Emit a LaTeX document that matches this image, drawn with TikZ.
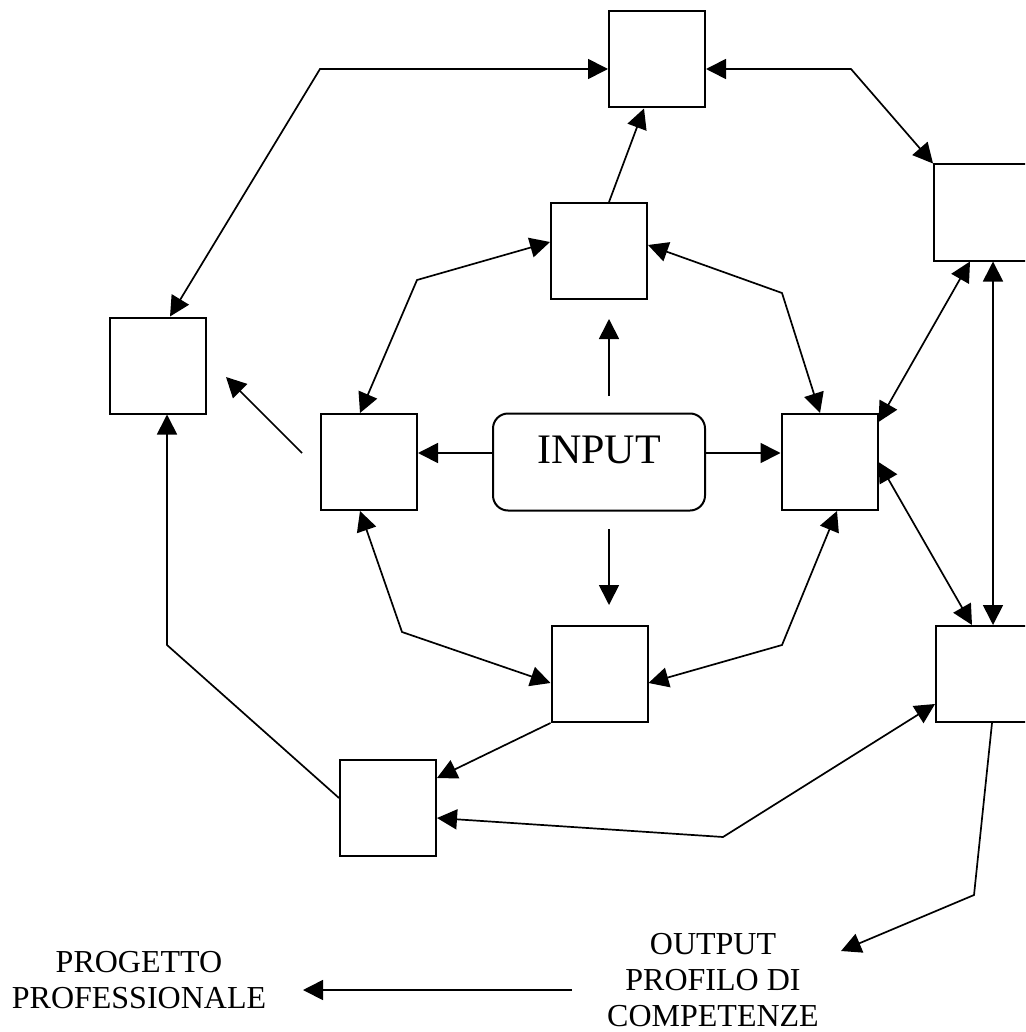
\documentclass[tikz,border=0pt]{standalone}
\usepackage{fontspec}
\setmainfont{Liberation Serif}
\usetikzlibrary{arrows.meta}

\begin{document}
\begin{tikzpicture}[x=0.5pt,y=-0.5pt,
  box/.style={draw, line width=1pt, minimum width=48pt, minimum height=48pt, inner sep=0pt},
  arr/.style={line width=0.85pt, -{Triangle[length=10pt,width=10pt]}},
  dbl/.style={line width=0.85pt, {Triangle[length=10pt,width=10pt]}-{Triangle[length=10pt,width=10pt]}},
  lbl/.style={align=center, font=\fontsize{16}{18}\selectfont}]
\clip (0,0) rectangle (1025,1032);
% boxes
\node[box] (top) at (657,59.5) {};
\node[box] (up) at (599,251) {};
\node[box] (left) at (369,462) {};
\node[box] (right) at (829.5,462) {};
\node[box] (down) at (599.5,674) {};
\node[box] (far) at (157.5,365.5) {};
\node[box] (low) at (388,808) {};
\node[box] (rtop) at (982,212.5) {};
\node[box] (rbot) at (984,674) {};
\node[draw, rounded corners=7.5pt, line width=1pt, minimum width=106pt, minimum height=48.5pt,
  text depth=12pt, font=\fontsize{21}{25}\selectfont] (inp) at (599,462) {INPUT};
\node[lbl] (out) at (713,980) {OUTPUT\\PROFILO DI\\COMPETENZE};
\node[lbl] (prog) at (139,980) {PROGETTO\\PROFESSIONALE};
% free ends
\coordinate (upA) at (609,396); \coordinate (upB) at (609,319);
\coordinate (dnA) at (609,529); \coordinate (dnB) at (609,605);
\coordinate (lfA) at (302,453); \coordinate (lfB) at (226,377);
\coordinate (outTip) at (841,951);
\coordinate (prA) at (572,990); \coordinate (prB) at (303,990);
% from the input
\draw[arr] ([yshift=4.5pt]inp.west) -- ([yshift=4.5pt]left.east);
\draw[arr] ([yshift=4.5pt]inp.east) -- ([yshift=4.5pt]right.west);
\draw[arr] (upA) -- (upB);
\draw[arr] (dnA) -- (dnB);
% inner ring
\draw[dbl] ([yshift=4.5pt]up.west) -- (417,280) -- ([xshift=-4.5pt]left.north);
\draw[dbl] ([yshift=3pt]up.east) -- (782,293) -- ([xshift=-4.75pt]right.north);
\draw[dbl] ([xshift=-4.5pt]left.south) -- (402,632) -- ([yshift=-4.5pt]down.west);
\draw[dbl] ([yshift=-4.5pt]down.east) -- (782,645) -- ([xshift=3.75pt]right.south);
% outer ring
\draw[arr] ([xshift=5pt]up.north) -- ([xshift=-6.5pt]top.south);
\draw[dbl] ([yshift=-4.75pt]top.west) -- (320,69) -- ([xshift=6.25pt]far.north);
\draw[dbl] ([yshift=-4.75pt]top.east) -- (851,69) -- (rtop.north west);
\draw[dbl] ([yshift=20pt]right.east) -- ([xshift=-6pt]rtop.south);
\draw[dbl] (right.east) -- ([xshift=-6pt]rbot.north);
\draw[dbl] ([xshift=5.5pt]rtop.south) -- ([xshift=5.5pt]rtop.south |- rbot.north);
\draw[arr] (down.south west) -- ([yshift=15pt]low.east);
\draw[arr] ([yshift=5pt]low.west) -- (167,645) -- ([xshift=4.75pt]far.south);
\draw[dbl] ([yshift=-5pt]low.east) -- (723,837) -- ([yshift=-15pt]rbot.west);
\draw[arr] (lfA) -- (lfB);
% output
\draw[arr] ([xshift=4pt]rbot.south) -- (974,895) -- (outTip);
\draw[arr] (prA) -- (prB);
\end{tikzpicture}
\end{document}
